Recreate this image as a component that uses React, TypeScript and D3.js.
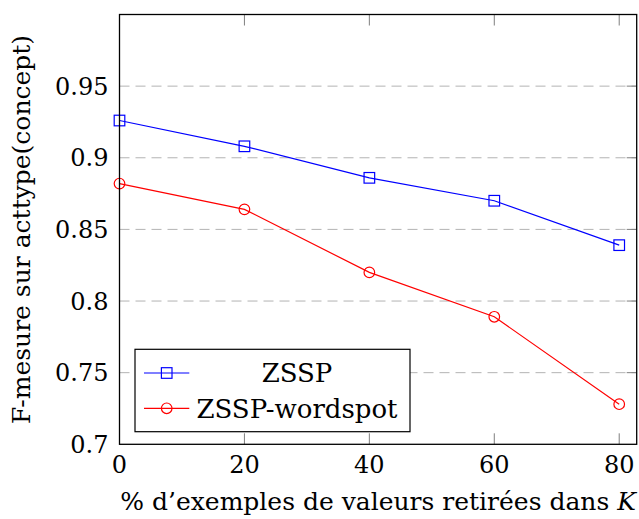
import React from "react";
import * as d3 from "d3";

const removed = [0, 20, 40, 60, 80];
const zssp = [0.926, 0.908, 0.886, 0.87, 0.839];
const zsspWordspot = [0.882, 0.864, 0.82, 0.789, 0.728];
const xTicks = [0, 20, 40, 60, 80];
const yTicks = [0.7, 0.75, 0.8, 0.85, 0.9, 0.95];
const seriesNames = ["ZSSP", "ZSSP-wordspot"];

const W = 639;
const H = 519;
const margin = { top: 14.5, right: 2.3, bottom: 74.7, left: 119.5 };
const FONT = "DejaVu Serif";

const App = () => {
  const width = W - margin.left - margin.right;
  const height = H - margin.top - margin.bottom;

  const x = d3.scaleLinear().domain([0, 82.8]).range([0, width]);
  const y = d3.scaleLinear().domain([0.7, 1.0]).range([height, 0]);

  const line = d3
    .line<number>()
    .x((d, i) => x(removed[i]))
    .y((d) => y(d));

  const series = [
    { name: seriesNames[0], values: zssp, color: "#0000ff", mark: "square" },
    { name: seriesNames[1], values: zsspWordspot, color: "#ff0000", mark: "circle" },
  ];

  const marker = (mark, color, cx, cy, key?) =>
    mark === "square" ? (
      <rect key={key} x={cx - 5.3} y={cy - 5.3} width={10.6} height={10.6} fill="none" stroke={color} strokeWidth={1.2} />
    ) : (
      <circle key={key} cx={cx} cy={cy} r={5.3} fill="none" stroke={color} strokeWidth={1.2} />
    );

  // legend box
  const lg = { x: 135 - margin.left, y: 349.3 - margin.top, w: 275, h: 82.4 };
  const tickStyle = { fontFamily: FONT, fontSize: 24 };
  const labelStyle = { fontFamily: FONT, fontSize: 25 };
  const legendStyle = { fontFamily: FONT, fontSize: 26 };

  return (
    <svg width={W} height={H} style={{ position: "absolute", left: 0, top: 0, background: "#fff" }}>
      <g transform={`translate(${margin.left},${margin.top})`}>
        {yTicks.slice(1).map((t) => (
          <line key={"g" + t} x1={0} x2={width} y1={y(t)} y2={y(t)} stroke="#b3b3b3" strokeWidth={1} strokeDasharray="10,6" />
        ))}
        {yTicks.slice(1).map((t) => (
          <line key={"rt" + t} x1={width - 10} x2={width} y1={y(t)} y2={y(t)} stroke="#7f7f7f" strokeWidth={1} />
        ))}
        {xTicks.slice(1).map((t) => (
          <g key={"xt" + t}>
            <line x1={x(t)} x2={x(t)} y1={height} y2={height - 11} stroke="#7f7f7f" strokeWidth={1} />
            <line x1={x(t)} x2={x(t)} y1={0} y2={11} stroke="#7f7f7f" strokeWidth={1} />
          </g>
        ))}

        {series.map((s) => (
          <g key={s.name}>
            <path d={line(s.values) || ""} fill="none" stroke={s.color} strokeWidth={1.2} />
            {s.values.map((v, i) => marker(s.mark, s.color, x(removed[i]), y(v), i))}
          </g>
        ))}

        <rect x={0} y={0} width={width} height={height} fill="none" stroke="#000" strokeWidth={1.3} />

        {xTicks.map((t) => (
          <text key={"xl" + t} x={x(t)} y={height + 29} textAnchor="middle" style={tickStyle}>
            {t}
          </text>
        ))}
        {yTicks.map((t) => (
          <text key={"yl" + t} x={-11} y={y(t)} dy="0.36em" textAnchor="end" style={tickStyle}>
            {d3.format("")(t)}
          </text>
        ))}

        <g transform={`translate(${lg.x},${lg.y})`}>
          <rect x={0} y={0} width={lg.w} height={lg.h} fill="#fff" stroke="#000" strokeWidth={1.2} />
          {series.map((s, i) => {
            const cy = i === 0 ? 23.7 : 59;
            return (
              <g key={"lg" + s.name}>
                <line x1={9} x2={54.3} y1={cy} y2={cy} stroke={s.color} strokeWidth={1.2} />
                {marker(s.mark, s.color, 31.7, cy)}
                <text x={162} y={cy} dy="0.36em" textAnchor="middle" style={legendStyle}>
                  {s.name}
                </text>
              </g>
            );
          })}
        </g>

        <text x={width / 2} y={height + 66} textAnchor="middle" style={labelStyle}>
          % d’exemples de valeurs retirées dans <tspan fontStyle="italic">K</tspan>
        </text>
        <text
          transform={`translate(${-margin.left + 30},${height / 2}) rotate(-90)`}
          textAnchor="middle"
          style={labelStyle}
        >
          F-mesure sur acttype(concept)
        </text>
      </g>
    </svg>
  );
};

export default App;
